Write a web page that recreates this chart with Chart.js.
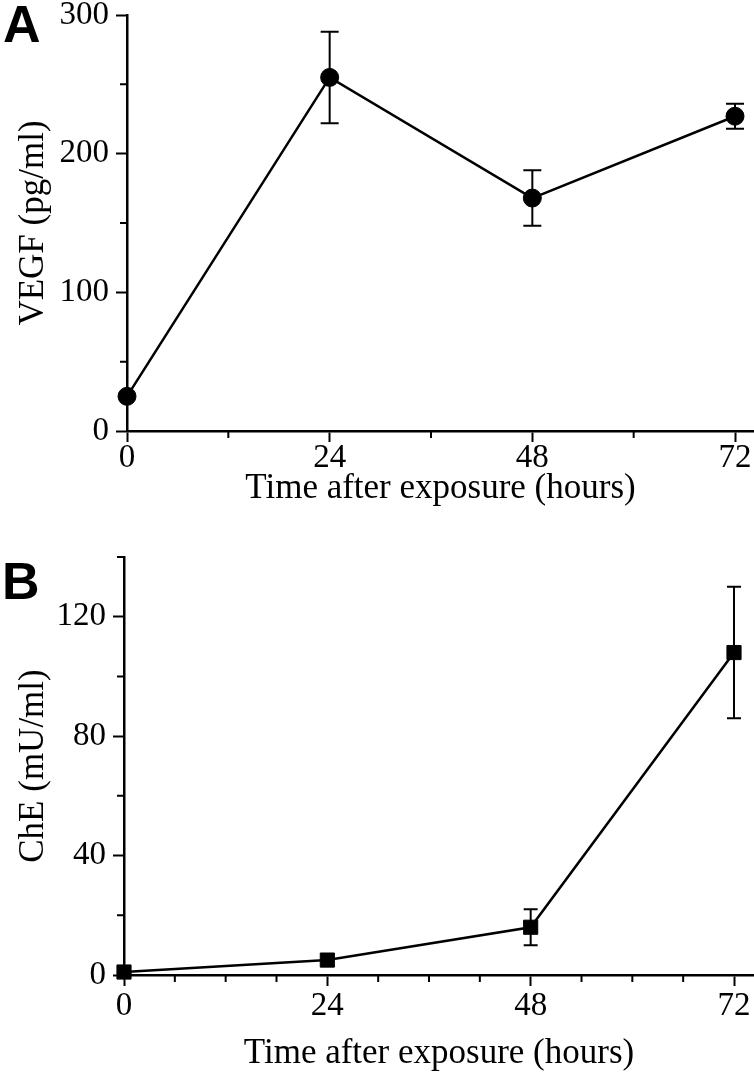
<!DOCTYPE html>
<html>
<head>
<meta charset="utf-8">
<script src="https://cdn.jsdelivr.net/npm/chart.js@4"></script>
<style>
html,body{margin:0;padding:0;background:#fff;}
#wrap{position:relative;width:754px;height:1078px;}
.panel{position:absolute;left:0;width:754px;height:539px;}
.tag{position:absolute;font-family:"Liberation Sans",Arial,sans-serif;font-weight:bold;font-size:52px;line-height:1;color:#000;}
</style>
</head>
<body>
<div id="wrap">
  <div class="panel" style="top:0"><canvas id="chartA" width="754" height="539"></canvas></div>
  <div class="panel" style="top:539px"><canvas id="chartB" width="754" height="539"></canvas></div>
  <div class="tag" style="left:3px;top:-2px">A</div>
  <div class="tag" style="left:2px;top:555px">B</div>
</div>
<script>
// data
const hours = [0, 24, 48, 72];
const vegf = [25, 255, 168, 227];
const vegfErr = [0, 33, 20, 9];
const che = [1, 5, 16, 108];
const cheErr = [0, 0, 6, 22];

// axis ticks
const xTicks = [0, 24, 48, 72];
const xMinorA = [12, 36, 60];
const xMinorB = [6, 12, 18, 30, 36, 42, 54, 60, 66];
const yTicksA = [0, 100, 200, 300];
const yMinorA = [50, 150, 250];
const yTicksB = [0, 40, 80, 120];
const yMinorB = [20, 60, 100, 140];

const serif = '"Liberation Serif", "Times New Roman", serif';

// vertical error bars, drawn under the line and markers
const errorBars = {
    id: 'errorBars',
    beforeDatasetsDraw(chart, args, opts) {
        const ctx = chart.ctx;
        const xs = chart.scales.x, ys = chart.scales.y;
        const pts = chart.data.datasets[0].data;
        ctx.save();
        ctx.strokeStyle = '#000';
        ctx.lineWidth = 2;
        pts.forEach((p, i) => {
            const e = opts.err[i];
            if (!e) return;
            const x = xs.getPixelForValue(p.x);
            const top = ys.getPixelForValue(p.y + e);
            const bot = ys.getPixelForValue(p.y - e);
            ctx.beginPath();
            ctx.moveTo(x, top); ctx.lineTo(x, bot);
            ctx.moveTo(x - opts.cap, top); ctx.lineTo(x + opts.cap, top);
            ctx.moveTo(x - opts.cap, bot); ctx.lineTo(x + opts.cap, bot);
            ctx.stroke();
        });
        ctx.restore();
    }
};

// short unlabelled ticks between the major ones
const minorTicks = {
    id: 'minorTicks',
    afterDraw(chart, args, opts) {
        const ctx = chart.ctx;
        const xs = chart.scales.x, ys = chart.scales.y;
        const area = chart.chartArea;
        ctx.save();
        ctx.strokeStyle = '#000';
        ctx.lineWidth = 2;
        ctx.beginPath();
        opts.x.forEach(v => {
            const px = xs.getPixelForValue(v);
            ctx.moveTo(px, area.bottom);
            ctx.lineTo(px, area.bottom + opts.len);
        });
        opts.y.forEach(v => {
            const py = ys.getPixelForValue(v);
            ctx.moveTo(area.left, py);
            ctx.lineTo(area.left - opts.len, py);
        });
        ctx.stroke();
        ctx.restore();
    }
};

function drawPanel(canvasId, p) {
    const data = {
        datasets: [{
            data: hours.map((h, i) => ({x: h, y: p.values[i]})),
            borderColor: '#000',
            borderWidth: 2.5,
            backgroundColor: '#000',
            pointStyle: p.marker,
            pointRadius: p.radius,
            pointBorderWidth: 1,
            pointBackgroundColor: '#000',
            pointBorderColor: '#000',
            tension: 0,
            clip: false,
        }]
    };

    const axisLine = {display: true, color: '#000', width: 2.5};
    const tickGrid = {
        display: true,
        drawOnChartArea: false,
        drawTicks: true,
        tickLength: 11,
        tickWidth: 2,
        tickColor: '#000',
    };

    const config = {
        type: 'line',
        data: data,
        options: {
            responsive: false,
            animation: false,
            layout: {autoPadding: false, padding: {top: p.top, left: 0, right: 0, bottom: 0}},
            plugins: {
                legend: {display: false},
                tooltip: {enabled: false},
                errorBars: {err: p.err, cap: p.cap},
                minorTicks: {x: p.xMinor, y: p.yMinor, len: 7},
            },
            scales: {
                x: {
                    type: 'linear',
                    min: 0,
                    max: p.xMax,
                    afterBuildTicks: (s) => { s.ticks = xTicks.map(v => ({value: v})); },
                    afterFit: (s) => {
                        s.height = p.xHeight;
                        s.paddingLeft = 0;
                        s.paddingRight = 0;
                    },
                    grid: tickGrid,
                    border: axisLine,
                    ticks: {color: '#000', padding: p.xPad, font: {family: serif, size: 33}},
                    title: {
                        display: true,
                        text: 'Time after exposure (hours)',
                        color: '#000',
                        font: {family: serif, size: 35},
                        padding: {top: 0, bottom: p.xTitlePad},
                    },
                },
                y: {
                    type: 'linear',
                    min: 0,
                    max: p.yMax,
                    afterBuildTicks: (s) => { s.ticks = p.yTicks.map(v => ({value: v})); },
                    afterFit: (s) => {
                        s.width = p.yWidth;
                        s.paddingTop = 0;
                        s.paddingBottom = 0;
                    },
                    grid: tickGrid,
                    border: axisLine,
                    ticks: {color: '#000', padding: 7, font: {family: serif, size: 33}},
                    title: {
                        display: true,
                        text: p.yTitle,
                        color: '#000',
                        font: {family: serif, size: 35},
                        padding: {top: 13, bottom: 0},
                    },
                },
            },
        },
        plugins: [errorBars, minorTicks],
    };

    new Chart(document.getElementById(canvasId), config);
}

drawPanel('chartA', {
    values: vegf, err: vegfErr, cap: 9,
    marker: 'circle', radius: 9,
    top: 15, xHeight: 108, yWidth: 127, xMax: 74.25, yMax: 300,
    yTicks: yTicksA, xMinor: xMinorA, yMinor: yMinorA,
    xPad: -3, xTitlePad: 29,
    yTitle: 'VEGF (pg/ml)',
});

drawPanel('chartB', {
    values: che, err: cheErr, cap: 7,
    marker: 'rect', radius: 10,
    top: 18, xHeight: 103, yWidth: 124, xMax: 74.36, yMax: 140,
    yTicks: yTicksB, xMinor: xMinorB, yMinor: yMinorB,
    xPad: 1, xTitlePad: 3,
    yTitle: 'ChE (mU/ml)',
});
</script>
</body>
</html>
